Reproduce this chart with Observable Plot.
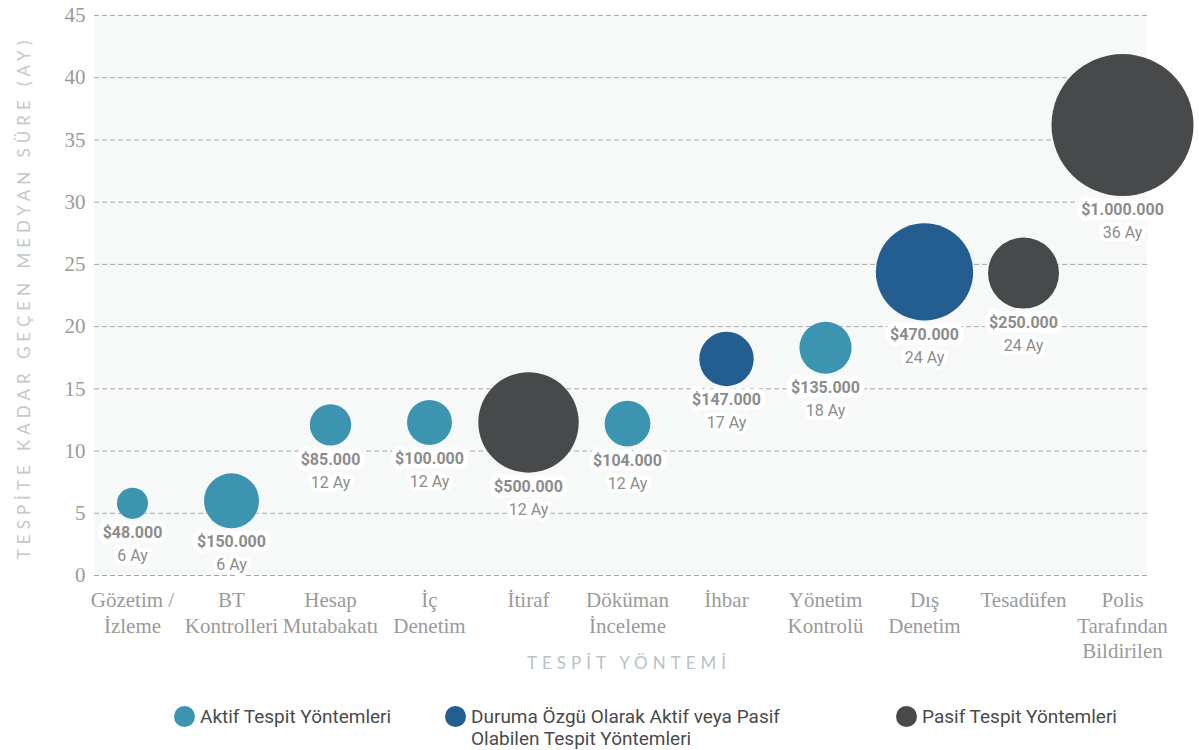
<!DOCTYPE html>
<html>
<head>
<meta charset="utf-8">
<script src="https://cdn.jsdelivr.net/npm/d3@7"></script>
<script src="https://cdn.jsdelivr.net/npm/@observablehq/plot@0.6"></script>
<style>
  body { margin: 0; background: #fff; }
  #chart { width: 1199px; }
  #legend { display: flex; padding-left: 174px; margin-top: 16px;
    font-family: Roboto, sans-serif;
    font-size: 19px; color: #4a4a4a; line-height: 22px; }
  .item { display: flex; align-items: flex-start; }
  .sw { width: 21px; height: 21px; border-radius: 50%; margin-right: 5px; margin-top: 0px; flex: none; }
</style>
</head>
<body>
<div id="chart"></div>
<div id="legend"></div>
<script>
const categories = ["Gözetim /\nİzleme", "BT\nKontrolleri", "Hesap\nMutabakatı", "İç\nDenetim", "İtiraf", "Döküman\nİnceleme", "İhbar", "Yönetim\nKontrolü", "Dış\nDenetim", "Tesadüfen", "Polis\nTarafından\nBildirilen"];
const durations = [5.8, 6.0, 12.1, 12.3, 12.3, 12.2, 17.4, 18.3, 24.4, 24.3, 36.2];
const months = [6, 6, 12, 12, 12, 12, 17, 18, 24, 24, 36];
const losses = [48000, 150000, 85000, 100000, 500000, 104000, 147000, 135000, 470000, 250000, 1000000];
const groupNames = ["Aktif Tespit Yöntemleri", "Duruma Özgü Olarak Aktif veya Pasif Olabilen Tespit Yöntemleri", "Pasif Tespit Yöntemleri"];
const groups = [0, 0, 0, 0, 2, 0, 1, 0, 1, 2, 2];
const groupColors = ["#3d94b1", "#245e90", "#48494b"];
const yTicks = [0, 5, 10, 15, 20, 25, 30, 35, 40, 45];
const yTitle = "TESPİTE KADAR GEÇEN MEDYAN SÜRE (AY)";
const xTitle = "TESPİT YÖNTEMİ";

const data = categories.map((c, i) => ({
  cat: c, y: durations[i], m: months[i], loss: losses[i], group: groupNames[groups[i]]
}));

const fmt = d3.formatLocale({decimal: ",", thousands: ".", grouping: [3], currency: ["$", ""]}).format("$,");

function below(offset) {
  return (index, scales, values, dims, context, next) => {
    const y = Float64Array.from(values.y, (v, i) => v + scales.r(data[i].loss) + offset);
    return next(index, scales, {...values, y}, dims, context);
  };
}

const labelFont = "Roboto, 'Liberation Sans', sans-serif";
const serif = "'Liberation Serif', 'DejaVu Serif', serif";

const plot = Plot.plot({
  width: 1199, height: 690,
  marginLeft: 94, marginRight: 52, marginTop: 15, marginBottom: 115,
  style: {background: "transparent"},
  x: {type: "point", domain: categories, range: [129, 1125], padding: 0, label: null},
  y: {domain: [0, 45], label: null},
  r: {range: [0, 71]},
  color: {domain: groupNames, range: groupColors},
  marks: [
    Plot.frame({fill: "#f7f9f9", stroke: "none"}),
    Plot.gridY(yTicks, {stroke: "#a8a8a8", strokeOpacity: 1, strokeDasharray: "5,3"}),
    Plot.axisY(yTicks, {tickSize: 0, tickPadding: 9, fontSize: 21, fontFamily: serif, fill: "#9a9a9a", label: null}),
    Plot.axisX({tickSize: 0, tickPadding: 14, fontSize: 21, lineHeight: 1.2, fontFamily: serif, fill: "#9a9a9a", label: null}),
    Plot.dot(data, {x: "cat", y: "y", r: "loss", fill: "group", stroke: "none", fillOpacity: 1}),
    Plot.text(data, {x: "cat", y: "y", text: d => fmt(d.loss), fontWeight: "bold", fontSize: 16,
      fontFamily: labelFont, fill: "#8c8c8c", stroke: "white", strokeWidth: 10, strokeLinejoin: "round",
      render: below(14)}),
    Plot.text(data, {x: "cat", y: "y", text: d => `${d.m} Ay`, fontSize: 16,
      fontFamily: labelFont, fill: "#8c8c8c", stroke: "white", strokeWidth: 8, strokeLinejoin: "round",
      render: below(37)}),
    Plot.text([xTitle], {frameAnchor: "bottom", lineAnchor: "middle", dy: 88, dx: 8, fontSize: 17, fontFamily: "Lato, sans-serif",
      fill: "#b9c2c5"}),
    Plot.text([yTitle], {frameAnchor: "left", textAnchor: "middle", lineAnchor: "middle", rotate: -90, dx: -70, dy: 2, fontSize: 17, fontFamily: "Lato, sans-serif",
      fill: "#c4c8ca"})
  ]
});
document.getElementById("chart").appendChild(plot);

d3.select(plot).selectAll("text")
  .filter(function() { return this.textContent === xTitle || this.textContent === yTitle; })
  .style("letter-spacing", "5px");

const widths = [271, 451, 300];
const legend = d3.select("#legend");
groupNames.forEach((g, i) => {
  const it = legend.append("div").attr("class", "item").style("width", widths[i] + "px");
  it.append("div").attr("class", "sw").style("background", groupColors[i]);
  it.append("div").style("max-width", "330px").text(g);
});
</script>
</body>
</html>
